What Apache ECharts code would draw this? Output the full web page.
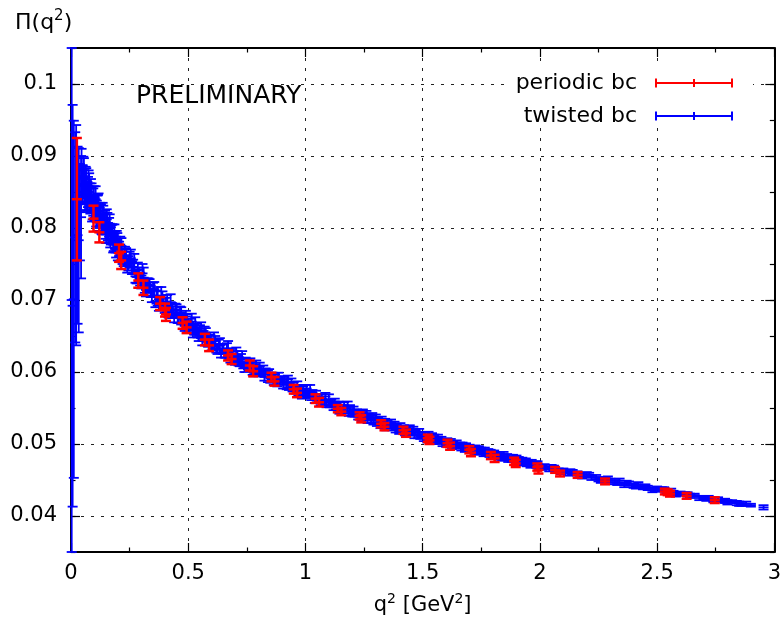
<!DOCTYPE html>
<html><head><meta charset="utf-8">
<script src="https://cdn.jsdelivr.net/npm/echarts@6/dist/echarts.min.js"></script>
<style>html,body{margin:0;padding:0;background:#fff}#c{width:784px;height:631px}</style>
</head><body><div id="c"></div>
<script>
const FONT = 'DejaVu Sans';
const xTicks = [0, 0.5, 1, 1.5, 2, 2.5, 3];
const yTicks = [0.04, 0.05, 0.06, 0.07, 0.08, 0.09, 0.1];
const seriesNames = ['periodic bc', 'twisted bc'];

// [q^2, Pi(q^2), error]
const periodic = [
[0.025,0.0840,0.0085],[0.096,0.0813,0.0018],[0.121,0.0794,0.0014],[0.205,0.0765,0.0012],[0.214,0.0755,0.0012],
[0.287,0.0727,0.0010],[0.309,0.0717,0.0010],[0.380,0.0695,0.0009],[0.401,0.0686,0.0009],[0.405,0.0680,0.0009],
[0.476,0.0668,0.0008],[0.493,0.0662,0.0008],[0.571,0.0645,0.0008],[0.589,0.0637,0.0008],[0.670,0.0623,0.0007],
[0.685,0.0618,0.0007],[0.763,0.0609,0.0007],[0.777,0.0601,0.0007],[0.855,0.0593,0.0006],[0.868,0.0587,0.0006],
[0.950,0.0576,0.0006],[0.964,0.0571,0.0006],[1.043,0.0563,0.0006],[1.058,0.0558,0.0006],[1.138,0.0549,0.0005],
[1.153,0.0545,0.0005],[1.231,0.0539,0.0005],[1.238,0.0535,0.0005],[1.323,0.0528,0.0005],[1.337,0.0524,0.0005],
[1.418,0.0519,0.0005],[1.429,0.0515,0.0005],[1.522,0.0508,0.0005],[1.529,0.0505,0.0005],[1.606,0.0501,0.0005],
[1.617,0.0497,0.0005],[1.699,0.0492,0.0005],[1.706,0.0488,0.0005],[1.791,0.0484,0.0005],[1.807,0.0480,0.0005],
[1.890,0.0476,0.0005],[1.897,0.0473,0.0005],[1.989,0.0468,0.0005],[1.994,0.0464,0.0005],[2.065,0.0464,0.0004],
[2.086,0.0459,0.0004],[2.161,0.0457,0.0004],[2.278,0.0448,0.0004],[2.533,0.0434,0.0004],[2.545,0.0433,0.0004],
[2.555,0.0431,0.0004],[2.626,0.0428,0.0004],[2.746,0.0422,0.0004]
];

const twisted = [
[0.003,0.0700,0.0350],[0.007,0.0692,0.0279],[0.012,0.0701,0.0248],[0.018,0.0787,0.0146],[0.022,0.0790,0.0153],
[0.028,0.0790,0.0123],[0.033,0.0783,0.0128],[0.038,0.0822,0.0067],[0.043,0.0815,0.0085],
[0.045,0.0880,0.0030],[0.050,0.0861,0.0026],[0.055,0.0869,0.0028],[0.060,0.0847,0.0022],[0.065,0.0858,0.0025],
[0.070,0.0844,0.0020],[0.075,0.0858,0.0022],[0.080,0.0843,0.0019],[0.085,0.0847,0.0021],[0.090,0.0826,0.0017],
[0.095,0.0836,0.0019],[0.100,0.0826,0.0016],[0.105,0.0840,0.0018],[0.110,0.0823,0.0015],[0.115,0.0829,0.0017],
[0.120,0.0810,0.0014],[0.125,0.0819,0.0016],[0.130,0.0806,0.0014],[0.135,0.0820,0.0015],[0.140,0.0807,0.0013],
[0.145,0.0809,0.0015],[0.150,0.0791,0.0012],[0.155,0.0807,0.0014],[0.160,0.0792,0.0012],[0.165,0.0806,0.0013],
[0.170,0.0789,0.0012],[0.175,0.0792,0.0013],[0.180,0.0777,0.0011],[0.185,0.0792,0.0013],[0.190,0.0777,0.0011],
[0.195,0.0784,0.0012],[0.200,0.0766,0.0011],
[0.0475,0.0860,0.0027],[0.0525,0.0872,0.0027],[0.0575,0.0858,0.0024],[0.0625,0.0861,0.0024],[0.0675,0.0843,0.0021],
[0.0725,0.0850,0.0021],[0.0775,0.0855,0.0021],[0.0825,0.0838,0.0018],[0.0875,0.0843,0.0019],[0.0925,0.0829,0.0017],
[0.0975,0.0840,0.0018],[0.1025,0.0830,0.0016],[0.1075,0.0817,0.0015],[0.1125,0.0829,0.0016],[0.1175,0.0832,0.0016],
[0.1225,0.0814,0.0014],[0.1275,0.0818,0.0015],[0.1325,0.0804,0.0013],[0.1375,0.0817,0.0014],[0.1425,0.0807,0.0013],
[0.1475,0.0797,0.0012],[0.1525,0.0812,0.0014],[0.1575,0.0795,0.0012],[0.1625,0.0801,0.0013],[0.1675,0.0784,0.0011],
[0.1725,0.0792,0.0012],[0.1775,0.0793,0.0012],[0.1825,0.0779,0.0011],[0.1875,0.0783,0.0012],[0.1925,0.0770,0.0011],
[0.1975,0.0781,0.0012],
[0.21,0.0777,0.0011],[0.22,0.0760,0.0010],[0.23,0.0762,0.0012],[0.24,0.0748,0.0010],[0.25,0.0756,0.0011],
[0.26,0.0745,0.0009],[0.27,0.0751,0.0013],[0.28,0.0732,0.0009],[0.29,0.0735,0.0010],[0.30,0.0725,0.0009],
[0.31,0.0731,0.0014],[0.32,0.0714,0.0009],[0.33,0.0720,0.0010],[0.34,0.0712,0.0008],[0.35,0.0715,0.0009],
[0.36,0.0698,0.0008],[0.37,0.0705,0.0013],[0.38,0.0694,0.0008],[0.39,0.0703,0.0009],[0.40,0.0690,0.0008],
[0.41,0.0695,0.0012],[0.42,0.0683,0.0008],[0.43,0.0687,0.0009],[0.44,0.0676,0.0007],[0.45,0.0686,0.0008],
[0.46,0.0675,0.0007],[0.47,0.0678,0.0012],[0.48,0.0667,0.0007],[0.49,0.0677,0.0008],[0.50,0.0662,0.0007],
[0.51,0.0666,0.0008],[0.52,0.0655,0.0007],[0.53,0.0664,0.0012],[0.54,0.0655,0.0007],[0.55,0.0658,0.0007],
[0.56,0.0644,0.0007],[0.57,0.0655,0.0008],[0.58,0.0643,0.0006],[0.59,0.0645,0.0007],[0.60,0.0636,0.0006],
[0.61,0.0644,0.0011],[0.62,0.0633,0.0006],[0.63,0.0638,0.0007],[0.64,0.0626,0.0006],[0.65,0.0632,0.0007],
[0.66,0.0626,0.0006],[0.67,0.0632,0.0011],[0.68,0.0619,0.0006],[0.69,0.0623,0.0006],[0.70,0.0616,0.0006],
[0.71,0.0622,0.0007],[0.72,0.0613,0.0005],[0.73,0.0619,0.0010],[0.74,0.0606,0.0006],[0.75,0.0612,0.0006],
[0.76,0.0607,0.0005],[0.77,0.0609,0.0006],[0.78,0.0599,0.0005],[0.79,0.0607,0.0009],[0.80,0.0599,0.0005],
[0.205,0.0771,0.0010],[0.215,0.0775,0.0011],[0.225,0.0757,0.0010],[0.235,0.0762,0.0010],[0.245,0.0751,0.0010],
[0.255,0.0758,0.0012],[0.265,0.0746,0.0010],[0.275,0.0733,0.0009],[0.285,0.0742,0.0010],[0.295,0.0729,0.0009],
[0.305,0.0737,0.0013],[0.315,0.0719,0.0009],[0.325,0.0721,0.0009],[0.335,0.0720,0.0009],[0.345,0.0706,0.0009],
[0.355,0.0715,0.0010],[0.365,0.0704,0.0009],[0.375,0.0693,0.0008],[0.385,0.0706,0.0012],[0.395,0.0694,0.0008],
[0.405,0.0695,0.0008],[0.415,0.0684,0.0008],[0.425,0.0697,0.0011],[0.435,0.0683,0.0008],[0.445,0.0687,0.0008],
[0.455,0.0675,0.0007],[0.465,0.0683,0.0008],[0.475,0.0674,0.0007],[0.485,0.0664,0.0007],[0.495,0.0672,0.0008],
[0.505,0.0662,0.0007],[0.515,0.0670,0.0011],[0.525,0.0659,0.0007],[0.535,0.0660,0.0007],[0.545,0.0650,0.0007],
[0.555,0.0658,0.0011],[0.565,0.0650,0.0007],[0.575,0.0654,0.0007],[0.585,0.0641,0.0006],[0.595,0.0644,0.0007],
[0.605,0.0638,0.0006],[0.615,0.0643,0.0007],[0.625,0.0631,0.0006],[0.635,0.0637,0.0010],[0.645,0.0632,0.0006],
[0.655,0.0626,0.0006],[0.665,0.0633,0.0007],[0.675,0.0624,0.0006],[0.685,0.0626,0.0006],[0.695,0.0617,0.0006],
[0.705,0.0624,0.0010],[0.715,0.0615,0.0006],[0.725,0.0619,0.0006],[0.735,0.0610,0.0005],[0.745,0.0614,0.0006],
[0.755,0.0609,0.0005],[0.765,0.0613,0.0006],[0.775,0.0601,0.0005],[0.785,0.0605,0.0006],[0.795,0.0601,0.0005],
[0.82,0.0604,0.0005],[0.84,0.0594,0.0008],[0.86,0.0594,0.0005],[0.88,0.0585,0.0005],[0.90,0.0590,0.0004],
[0.92,0.0583,0.0007],[0.94,0.0586,0.0005],[0.96,0.0574,0.0004],[0.98,0.0577,0.0005],[1.00,0.0570,0.0004],
[1.02,0.0573,0.0009],[1.04,0.0561,0.0004],[1.06,0.0564,0.0005],[1.08,0.0558,0.0004],[1.10,0.0561,0.0008],
[1.12,0.0551,0.0004],[1.14,0.0554,0.0005],[1.16,0.0549,0.0004],[1.18,0.0552,0.0007],[1.20,0.0542,0.0004],
[1.22,0.0544,0.0004],[1.24,0.0536,0.0004],[1.26,0.0541,0.0005],[1.28,0.0533,0.0004],[1.30,0.0537,0.0004],
[1.32,0.0526,0.0004],[1.34,0.0530,0.0005],[1.36,0.0525,0.0003],[1.38,0.0527,0.0004],[1.40,0.0518,0.0004],
[1.42,0.0522,0.0004],[1.44,0.0515,0.0003],[1.46,0.0520,0.0004],[1.48,0.0512,0.0004],[1.50,0.0513,0.0003],
[1.52,0.0506,0.0004],[1.54,0.0511,0.0004],[1.56,0.0505,0.0003],[1.58,0.0506,0.0004],[1.60,0.0499,0.0003],
[1.62,0.0503,0.0004],[1.64,0.0497,0.0003],[1.66,0.0498,0.0004],[1.68,0.0492,0.0003],[1.70,0.0496,0.0003],
[1.72,0.0491,0.0004],[1.74,0.0494,0.0003],[1.76,0.0486,0.0003],[1.78,0.0489,0.0004],[1.80,0.0484,0.0003],
[1.82,0.0486,0.0003],[1.84,0.0480,0.0003],[1.86,0.0482,0.0004],[1.88,0.0478,0.0003],[1.90,0.0481,0.0003],
[1.92,0.0475,0.0003],[1.94,0.0477,0.0003],[1.96,0.0470,0.0003],[1.98,0.0473,0.0003],[2.00,0.0468,0.0003],
[0.81,0.0599,0.0004],[0.83,0.0601,0.0004],[0.85,0.0591,0.0006],[0.87,0.0593,0.0004],[0.89,0.0587,0.0004],
[0.91,0.0589,0.0004],[0.93,0.0579,0.0004],[0.95,0.0580,0.0006],[0.97,0.0571,0.0004],[0.99,0.0576,0.0004],
[1.01,0.0568,0.0004],[1.03,0.0571,0.0004],[1.05,0.0562,0.0004],[1.07,0.0563,0.0006],[1.09,0.0555,0.0004],
[1.11,0.0558,0.0004],[1.13,0.0552,0.0004],[1.15,0.0554,0.0004],[1.17,0.0546,0.0004],[1.19,0.0550,0.0004],
[1.21,0.0541,0.0003],[1.23,0.0543,0.0003],[1.25,0.0538,0.0003],[1.27,0.0539,0.0003],[1.29,0.0530,0.0003],
[1.31,0.0533,0.0003],[1.33,0.0527,0.0003],[1.35,0.0530,0.0003],[1.37,0.0522,0.0003],[1.39,0.0525,0.0003],
[1.41,0.0520,0.0003],[1.43,0.0522,0.0003],[1.45,0.0515,0.0003],[1.47,0.0516,0.0003],[1.49,0.0510,0.0003],
[1.51,0.0513,0.0003],[1.53,0.0508,0.0003],[1.55,0.0510,0.0003],[1.57,0.0503,0.0003],[1.59,0.0504,0.0003],
[1.61,0.0499,0.0003],[1.63,0.0501,0.0003],[1.65,0.0497,0.0003],[1.67,0.0499,0.0003],[1.69,0.0493,0.0003],
[1.71,0.0494,0.0003],[1.73,0.0489,0.0003],[1.75,0.0492,0.0003],[1.77,0.0487,0.0003],[1.79,0.0489,0.0003],
[1.81,0.0483,0.0003],[1.83,0.0484,0.0003],[1.85,0.0480,0.0003],[1.87,0.0482,0.0003],[1.89,0.0478,0.0003],
[1.91,0.0479,0.0003],[1.93,0.0473,0.0003],[1.95,0.0475,0.0003],[1.97,0.0471,0.0003],[1.99,0.0473,0.0003],
[0.805,0.0608,0.0005],[0.825,0.0593,0.0005],[0.845,0.0599,0.0005],[0.865,0.0587,0.0005],[0.885,0.0594,0.0005],
[0.905,0.0582,0.0005],[0.925,0.0590,0.0005],[0.945,0.0578,0.0005],[0.965,0.0582,0.0005],[0.985,0.0568,0.0005],
[1.005,0.0577,0.0005],[1.025,0.0565,0.0004],[1.045,0.0569,0.0005],[1.065,0.0558,0.0004],[1.085,0.0566,0.0005],
[1.105,0.0555,0.0004],[1.125,0.0559,0.0004],[1.145,0.0546,0.0004],[1.165,0.0554,0.0004],[1.185,0.0543,0.0004],
[1.205,0.0548,0.0004],[1.225,0.0538,0.0004],[1.245,0.0544,0.0004],[1.265,0.0533,0.0004],[1.285,0.0539,0.0004],
[1.305,0.0529,0.0004],[1.325,0.0534,0.0004],[1.345,0.0523,0.0004],[1.365,0.0530,0.0004],[1.385,0.0520,0.0004],
[1.405,0.0525,0.0004],[1.425,0.0516,0.0004],[1.445,0.0522,0.0004],[1.465,0.0512,0.0004],[1.485,0.0517,0.0004],
[1.505,0.0508,0.0004],[1.525,0.0513,0.0004],[1.545,0.0504,0.0004],[1.565,0.0509,0.0004],[1.585,0.0501,0.0004],
[1.605,0.0505,0.0003],[1.625,0.0496,0.0003],[1.645,0.0502,0.0003],[1.665,0.0494,0.0003],[1.685,0.0498,0.0003],
[1.705,0.0491,0.0003],[1.725,0.0495,0.0003],[1.745,0.0488,0.0003],[1.765,0.0492,0.0003],[1.785,0.0485,0.0003],
[1.805,0.0488,0.0003],[1.825,0.0481,0.0003],[1.845,0.0486,0.0003],[1.865,0.0478,0.0003],[1.885,0.0482,0.0003],
[1.905,0.0475,0.0003],[1.925,0.0478,0.0003],[1.945,0.0472,0.0003],[1.965,0.0475,0.0003],[1.985,0.0470,0.0003],
[2.02,0.0469,0.0003],[2.04,0.0465,0.0003],[2.06,0.0467,0.0003],[2.08,0.0463,0.0003],[2.10,0.0463,0.0003],
[2.12,0.0459,0.0003],[2.14,0.0461,0.0003],[2.16,0.0459,0.0003],[2.18,0.0455,0.0003],[2.20,0.0458,0.0003],
[2.22,0.0453,0.0003],[2.24,0.0454,0.0003],[2.26,0.0449,0.0003],[2.28,0.0451,0.0003],[2.30,0.0449,0.0003],
[2.32,0.0447,0.0003],[2.34,0.0449,0.0003],[2.36,0.0443,0.0003],[2.38,0.0445,0.0003],[2.40,0.0442,0.0003],
[2.42,0.0444,0.0003],[2.44,0.0440,0.0003],[2.46,0.0439,0.0003],[2.48,0.0436,0.0003],[2.50,0.0438,0.0003],
[2.52,0.0437,0.0003],[2.54,0.0434,0.0003],[2.56,0.0435,0.0003],[2.58,0.0430,0.0003],[2.60,0.0431,0.0003],
[2.62,0.0431,0.0002],[2.64,0.0428,0.0003],[2.66,0.0429,0.0002],[2.68,0.0425,0.0003],[2.70,0.0425,0.0002],
[2.72,0.0425,0.0003],[2.74,0.0421,0.0002],[2.76,0.0423,0.0003],[2.78,0.0421,0.0002],[2.80,0.0419,0.0003],
[2.82,0.0420,0.0002],[2.84,0.0418,0.0003],[2.86,0.0416,0.0002],[2.88,0.0417,0.0003],[2.90,0.0415,0.0002],
[2.954,0.0412,0.0003],
[2.01,0.0467,0.0003],[2.05,0.0468,0.0003],[2.09,0.0461,0.0003],[2.13,0.0462,0.0003],[2.17,0.0456,0.0003],
[2.21,0.0457,0.0003],[2.25,0.0451,0.0003],[2.29,0.0452,0.0003],[2.33,0.0446,0.0003],[2.37,0.0446,0.0003],
[2.41,0.0441,0.0003],[2.45,0.0441,0.0003],[2.49,0.0437,0.0003],[2.53,0.0437,0.0003],[2.57,0.0432,0.0003],
[2.63,0.0430,0.0003],[2.71,0.0424,0.0003],[2.79,0.0421,0.0003],[2.85,0.0417,0.0003]
];

function errRender(color, lw, cap) {
  return function (params, api) {
    const x = api.value(0), y = api.value(1), e = api.value(2);
    const c = api.coord([x, y]);
    const t = api.coord([x, y + e])[1];
    const b = api.coord([x, y - e])[1];
    const st = {stroke: color, lineWidth: lw, fill: null};
    return {type: 'group', children: [
      {type: 'line', shape: {x1: c[0], y1: t, x2: c[0], y2: b}, style: st},
      {type: 'line', shape: {x1: c[0] - cap, y1: t, x2: c[0] + cap, y2: t}, style: st},
      {type: 'line', shape: {x1: c[0] - cap, y1: b, x2: c[0] + cap, y2: b}, style: st},
      {type: 'line', shape: {x1: c[0] - cap, y1: c[1], x2: c[0] + cap, y2: c[1]}, style: st}
    ]};
  };
}

const iconPath = 'path://M0,3.5H78V5.5H0Z M0,0H2V9H0Z M38,0.5H40V8.5H38Z M76,0H78V9H76Z';
const gridLine = {show: true, lineStyle: {color: '#222', width: 1, type: [3, 7]}};
const border = {show: true, onZero: false, lineStyle: {color: '#000', width: 2}};
const yFmt = v => String(parseFloat(Number(v).toFixed(4)));
const richSup = {
  a: {fontFamily: FONT, fontSize: 21, color: '#000', lineHeight: 27, fontWeight: 'normal'},
  s: {fontFamily: FONT, fontSize: 14, color: '#000', verticalAlign: 'top', lineHeight: 19, fontWeight: 'normal'}
};
const richTitle = {
  a: {fontFamily: FONT, fontSize: 22, color: '#000', lineHeight: 28, fontWeight: 'normal'},
  s: {fontFamily: FONT, fontSize: 15, color: '#000', verticalAlign: 'top', lineHeight: 20, fontWeight: 'normal'}
};

function xAx(pos, main) {
  return {
    type: 'value', position: pos, min: 0, max: 3, interval: 0.5,
    axisLine: border,
    axisTick: {show: true, inside: true, length: 9, lineStyle: {color: '#000', width: 1.2}},
    minorTick: {show: true, splitNumber: 2, length: 4.5, lineStyle: {color: '#000', width: 1.2}},
    axisLabel: main ? {show: true, margin: 11, fontSize: 21, fontFamily: FONT, color: '#000'} : {show: false},
    splitLine: main ? gridLine : {show: false},
    name: main ? '{a|q}{s|2}{a| [GeV}{s|2}{a|]}' : '',
    nameLocation: 'middle', nameGap: 40,
    nameTextStyle: {rich: richSup}
  };
}
function yMajor(pos, main) {
  return {
    type: 'value', position: pos, min: 0.035, max: 0.105, interval: 0.005,
    axisLine: border,
    axisTick: {show: true, inside: true, length: 9, customValues: yTicks, lineStyle: {color: '#000', width: 1.2}},
    axisLabel: main ? {show: true, customValues: yTicks, margin: 14, fontSize: 21, fontFamily: FONT, color: '#000', formatter: yFmt} : {show: false},
    splitLine: main ? gridLine : {show: false}
  };
}
function yMinor(pos) {
  return {
    type: 'value', position: pos, min: 0.035, max: 0.105, interval: 0.005,
    axisLine: {show: false, onZero: false},
    axisTick: {show: true, inside: true, length: 4.5, lineStyle: {color: '#000', width: 1.2}},
    axisLabel: {show: false}, splitLine: {show: false}
  };
}

const chart = echarts.init(document.getElementById('c'), null, {renderer: 'canvas'});
chart.setOption({
  animation: false,
  backgroundColor: '#fff',
  title: {
    text: '{a|Π(q}{s|2}{a|)}', left: 10, top: 4,
    textStyle: {fontWeight: 'normal', rich: richTitle}
  },
  grid: {left: 71, right: 8, top: 48, bottom: 79, containLabel: false},
  xAxis: [xAx('bottom', true), xAx('top', false)],
  yAxis: [yMajor('left', true), yMinor('left'), yMajor('right', false), yMinor('right')],
  legend: {
    orient: 'vertical', right: 46, top: 66, align: 'right',
    itemWidth: 78, itemHeight: 9, itemGap: 9, selectedMode: false,
    textStyle: {fontFamily: FONT, fontSize: 22, color: '#000', lineHeight: 24, padding: [0, 13, 0, 0]},
    data: [{name: seriesNames[0], icon: iconPath}, {name: seriesNames[1], icon: iconPath}]
  },
  graphic: [
    {type: 'rect', shape: {x: 508, y: 62, width: 245, height: 63}, style: {fill: '#fff'}, z: 1, silent: true},
    {type: 'text', left: 136, top: 84, z: 5, style: {text: 'PRELIMINARY', fontSize: 25, fontFamily: FONT, fill: '#000'}}
  ],
  series: [
    {name: seriesNames[1], type: 'custom', xAxisIndex: 0, yAxisIndex: 0, z: 2, clip: false,
     itemStyle: {color: '#0000ff'}, encode: {x: 0, y: 1},
     renderItem: errRender('#0000ff', 1.8, 5), data: twisted},
    {name: seriesNames[0], type: 'custom', xAxisIndex: 0, yAxisIndex: 0, z: 3, clip: false,
     itemStyle: {color: '#ff0000'}, encode: {x: 0, y: 1},
     renderItem: errRender('#ff0000', 2.5, 5), data: periodic}
  ]
});
</script></body></html>
